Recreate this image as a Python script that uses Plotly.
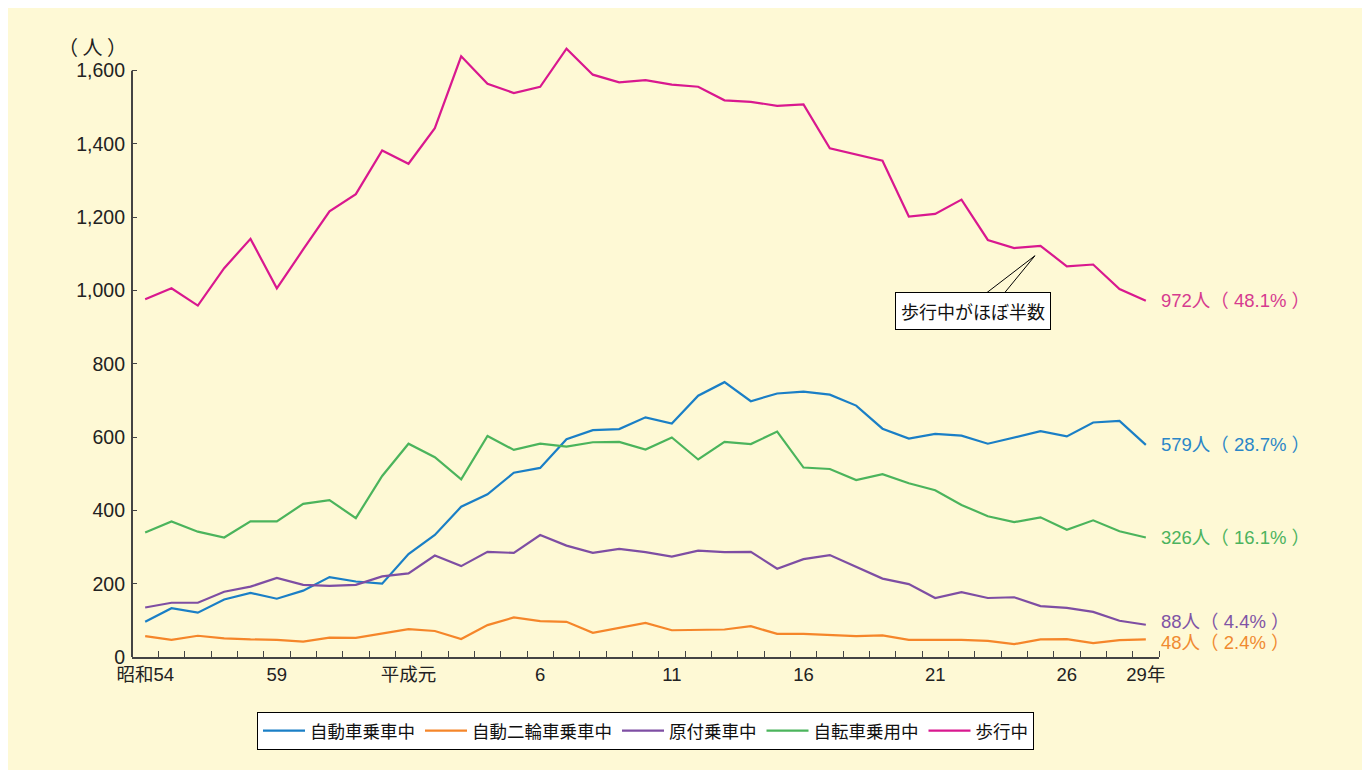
import plotly.graph_objects as go

years = list(range(39))  # 昭和54 (1979) .. 平成29 (2017)
tick_pos = [0, 5, 10, 15, 20, 25, 30, 35, 38]
tick_text = ["昭和54", "59", "平成元", "6", "11", "16", "21", "26", "29年"]
y_ticks = [0, 200, 400, 600, 800, 1000, 1200, 1400, 1600]

car = [96, 133, 121, 157, 175, 159, 181, 218, 206, 200, 281, 333, 410, 444, 503, 516, 594, 619, 622, 654,
       637, 713, 750, 698, 719, 724, 716, 686, 623, 596, 609, 604, 582, 600, 616, 602, 640, 644, 579]
moto = [57, 47, 58, 51, 48, 47, 42, 53, 52, 63, 76, 71, 49, 87, 108, 98, 96, 66, 80, 93,
        73, 75, 75, 84, 63, 63, 61, 57, 59, 47, 47, 47, 44, 35, 48, 49, 38, 46, 48]
moped = [135, 148, 148, 178, 192, 216, 197, 194, 197, 220, 228, 277, 248, 287, 284, 333, 304, 284, 295, 286,
         274, 290, 286, 287, 241, 267, 278, 245, 214, 199, 161, 177, 161, 163, 139, 134, 123, 99, 88]
bicycle = [340, 370, 342, 326, 370, 370, 418, 428, 379, 494, 582, 545, 485, 603, 565, 582, 574, 586, 587, 566,
           599, 539, 587, 581, 615, 517, 513, 483, 499, 474, 455, 415, 384, 368, 381, 347, 373, 343, 326]
walk = [976, 1006, 959, 1061, 1141, 1006, 1112, 1216, 1263, 1382, 1346, 1443, 1639, 1564, 1539, 1556, 1660, 1589, 1568, 1574,
        1562, 1556, 1519, 1515, 1504, 1508, 1388, 1370, 1354, 1202, 1209, 1248, 1138, 1116, 1122, 1066, 1071, 1004, 972]

series_names = ["自動車乗車中", "自動二輪車乗車中", "原付乗車中", "自転車乗用中", "歩行中"]
series_vals = [car, moto, moped, bicycle, walk]
colors = ["#1a7fc6", "#f5862a", "#7e4ea3", "#4bb45c", "#d9188f"]
label_colors = ["#2a86c8", "#f08a30", "#8054a5", "#4cb35e", "#d63b8f"]
end_labels = ["579人（ 28.7% ）", "48人（ 2.4% ）", "88人（ 4.4% ）", "326人（ 16.1% ）", "972人（ 48.1% ）"]
label_yshift = [0, -3, 3, 0, 0]

FONT = "Noto Sans CJK JP"
NUMFONT = "Liberation Sans"
fig = go.Figure()
for name, vals, col in zip(series_names, series_vals, colors):
    fig.add_trace(go.Scatter(x=years, y=vals, mode="lines", name=name,
                             line=dict(color=col, width=2.2)))

for vals, txt, col, ys in zip(series_vals, end_labels, label_colors, label_yshift):
    fig.add_annotation(x=years[-1], y=vals[-1], text=txt, showarrow=False,
                       xanchor="left", yanchor="middle", xshift=13, yshift=ys,
                       font=dict(size=18.5, color=col, family=NUMFONT + ", " + FONT))

# callout
fig.add_annotation(x=31.42, y=943, text="歩行中がほぼ半数", showarrow=False,
                   bgcolor="white", bordercolor="black", borderwidth=1, borderpad=5,
                   font=dict(size=18, color="#111", family=FONT))
fig.add_shape(type="path", xref="x", yref="y",
              path="M 31.85 988 L 33.79 1095 L 32.57 988",
              line=dict(color="black", width=1))

fig.add_annotation(xref="paper", yref="paper", x=-0.003, y=1600 / 1700 + 0.012, text="（ 人 ）",
                   showarrow=False, xanchor="right", yanchor="bottom",
                   font=dict(size=20, color="#222", family=FONT))

# y axis line only up to 1600
fig.add_shape(type="line", xref="paper", yref="y", x0=0, x1=0, y0=0, y1=1600,
              line=dict(color="#444", width=2))

fig.update_layout(
    width=1370, height=770,
    margin=dict(l=124, r=219, t=26, b=121),
    paper_bgcolor="#fef9d5", plot_bgcolor="rgba(0,0,0,0)",
    font=dict(family=FONT, size=18, color="#222"),
    showlegend=True,
    legend=dict(orientation="h", x=0.5, xanchor="center", y=-0.088, yanchor="top",
                bgcolor="white", bordercolor="black", borderwidth=1,
                font=dict(size=17.5, family=FONT, color="#111"),
                itemwidth=42, tracegroupgap=0),
)
fig.update_xaxes(range=[-0.5, 38.5], tickmode="array", tickvals=tick_pos, ticktext=tick_text,
                 ticks="", showgrid=False, zeroline=False, showline=True, linecolor="#444", linewidth=2,
                 tickfont=dict(size=18.5, color="#222", family=NUMFONT + ", " + FONT),
                 minor=dict(tickmode="array", tickvals=[i + 0.5 for i in years], ticks="inside",
                            ticklen=6, tickcolor="#444", tickwidth=1, showgrid=False))
fig.update_yaxes(range=[0, 1700], tickmode="array", tickvals=y_ticks,
                 tickformat=",d", ticks="inside", ticklen=5, tickcolor="#444",
                 showgrid=False, zeroline=False, showline=False, ticklabelstandoff=6,
                 tickfont=dict(size=19.5, color="#222", family=NUMFONT))

fig.write_html("out.html")
